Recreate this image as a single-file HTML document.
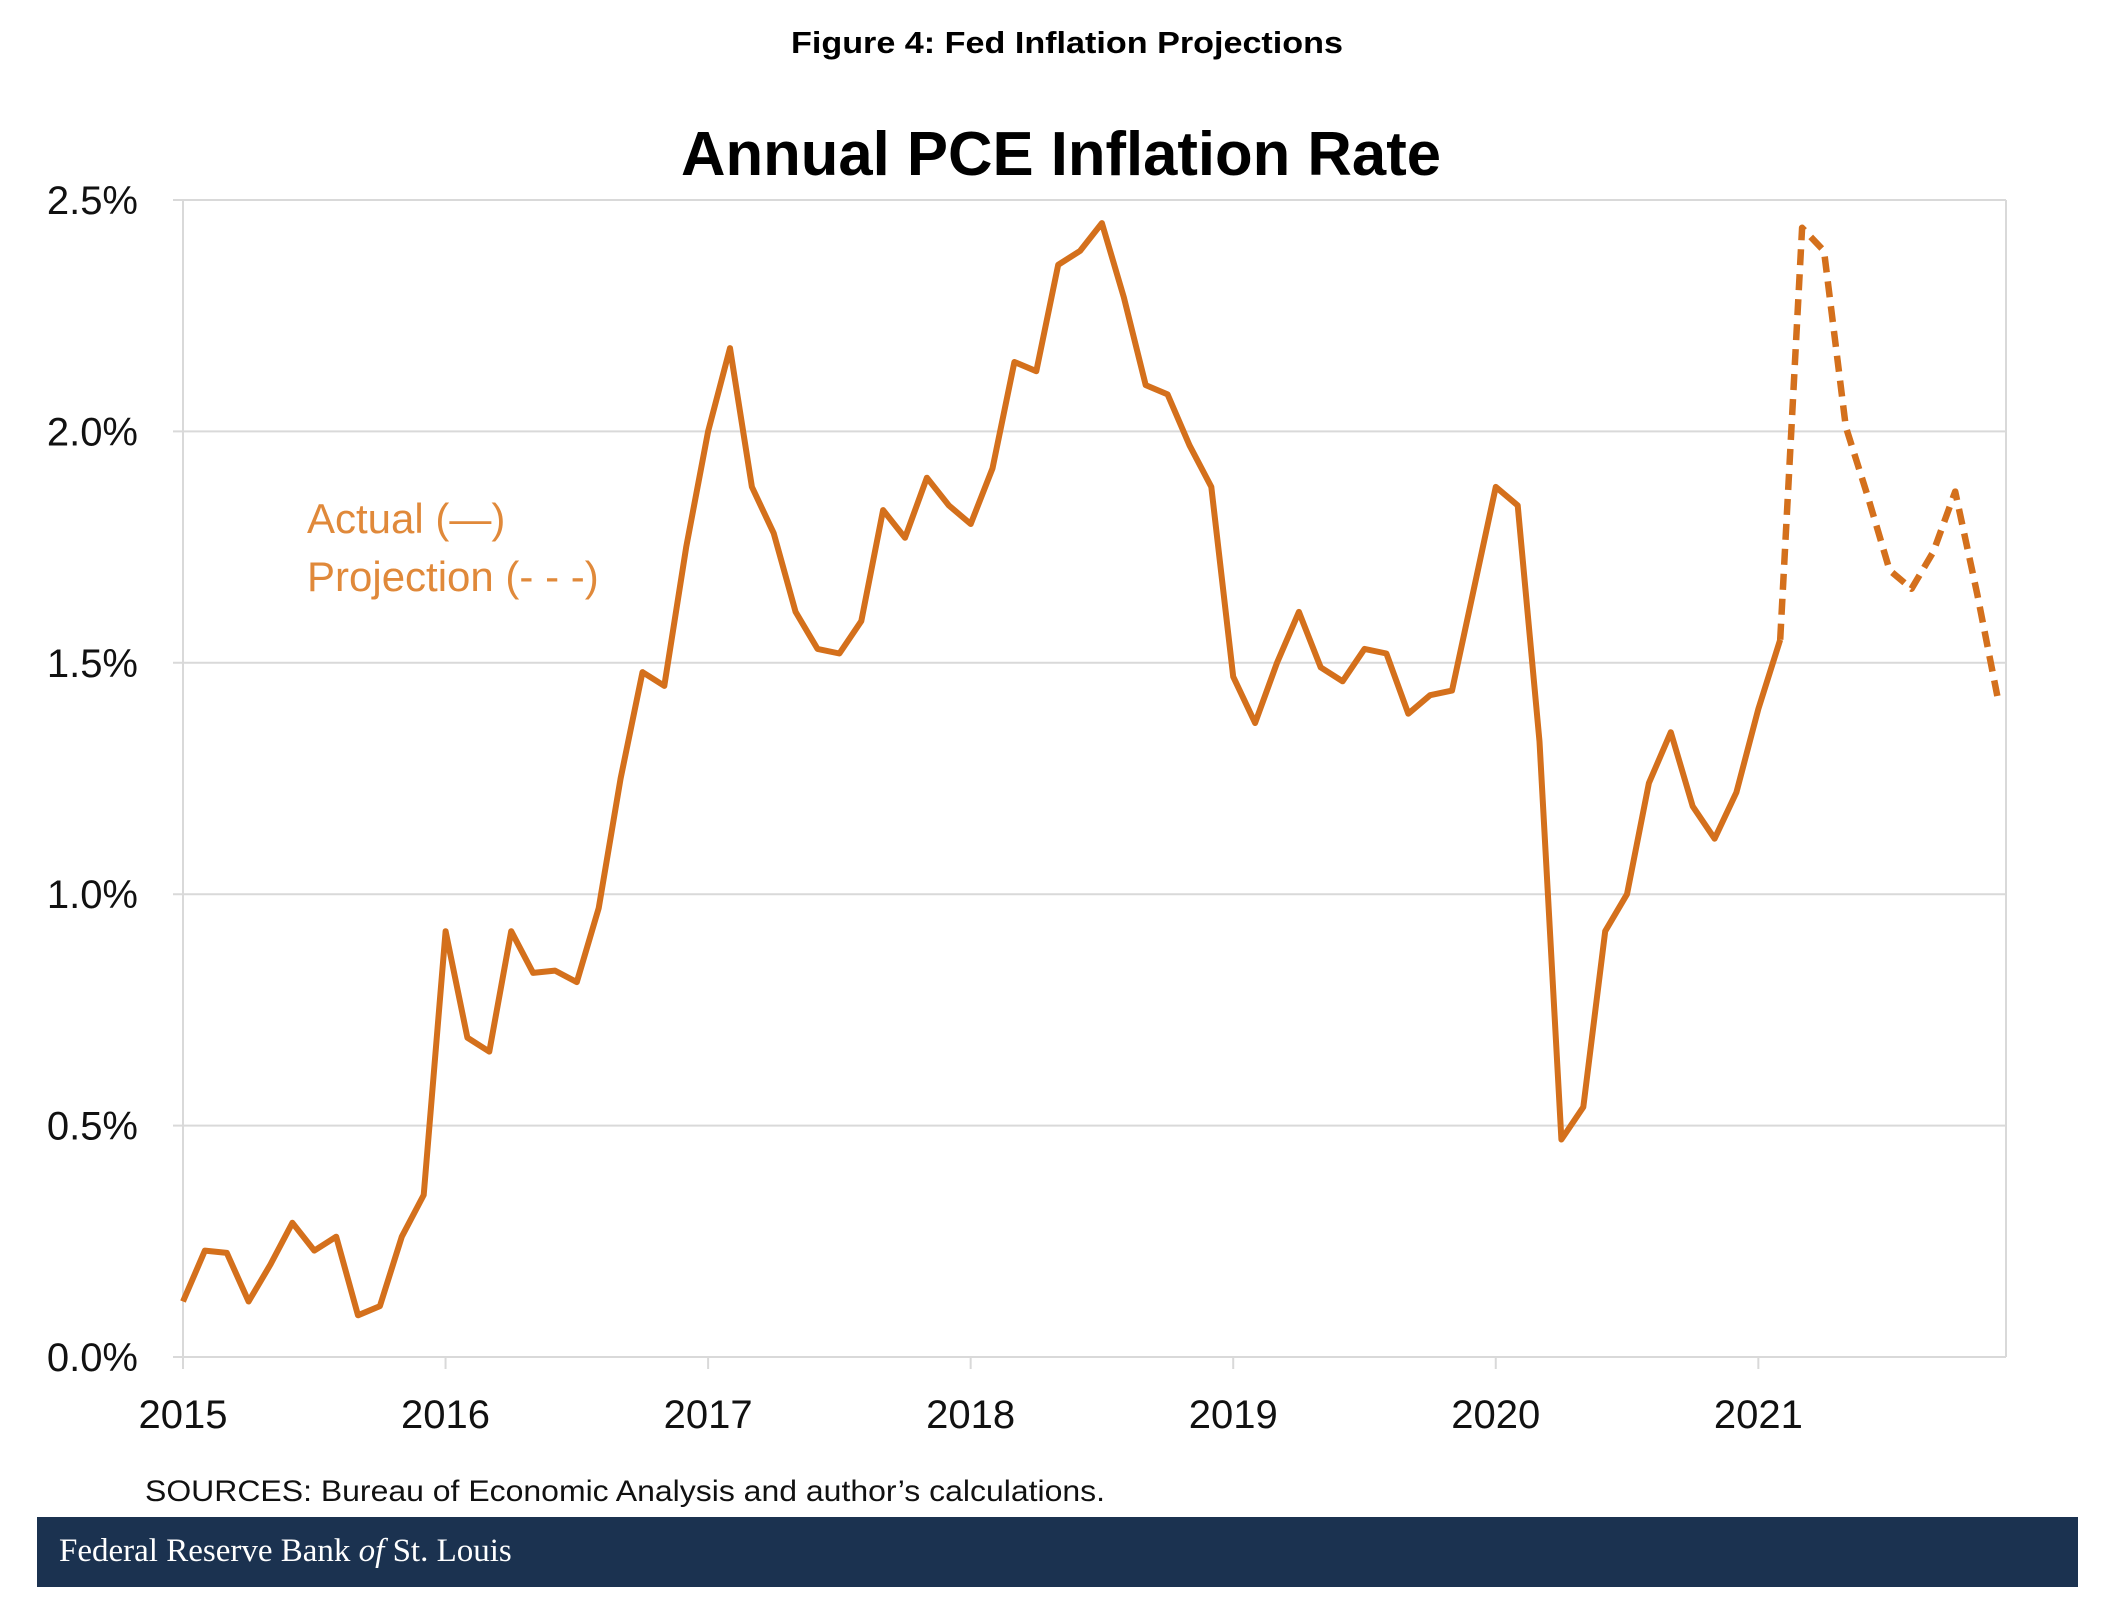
<!DOCTYPE html>
<html><head><meta charset="utf-8"><style>
html,body{margin:0;padding:0;background:#fff;}
svg{display:block;}
</style></head><body>
<svg width="2117" height="1619" viewBox="0 0 2117 1619" xmlns="http://www.w3.org/2000/svg" font-family="Liberation Sans, sans-serif">
<text x="1067" y="53" text-anchor="middle" font-size="31" font-weight="bold" textLength="552" lengthAdjust="spacingAndGlyphs">Figure 4: Fed Inflation Projections</text>
<text x="1061" y="175" text-anchor="middle" font-size="62" font-weight="bold" textLength="760" lengthAdjust="spacingAndGlyphs">Annual PCE Inflation Rate</text>
<g id="grid"></g>
<g id="yaxis"></g>
<g id="xaxis"></g>
<g id="series"></g>
<text x="307" y="533" font-size="42" fill="#e0893a">Actual (—)</text>
<text x="307" y="591" font-size="42" fill="#e0893a">Projection (- - -)</text>
<text x="145" y="1501" font-size="30" fill="#111" textLength="960" lengthAdjust="spacingAndGlyphs">SOURCES: Bureau of Economic Analysis and author’s calculations.</text>
<rect x="37" y="1517" width="2041" height="70" fill="#1b3250"/>
<text x="59" y="1561" font-size="33" fill="#fff" font-family="Liberation Serif, serif">Federal Reserve Bank <tspan font-style="italic">of</tspan> St. Louis</text>
</svg>
<script>
const yTicks=[0,0.5,1.0,1.5,2.0,2.5];
const yTickLabels=["0.0%","0.5%","1.0%","1.5%","2.0%","2.5%"];
const xYears=[2015,2016,2017,2018,2019,2020,2021];
const actual=[0.12,0.23,0.225,0.12,0.2,0.29,0.23,0.26,0.09,0.11,0.26,0.35,
0.92,0.69,0.66,0.92,0.83,0.835,0.81,0.97,1.25,1.48,1.45,1.75,
2.0,2.18,1.88,1.78,1.61,1.53,1.52,1.59,1.83,1.77,1.9,1.84,
1.8,1.92,2.15,2.13,2.36,2.39,2.45,2.29,2.1,2.08,1.97,1.88,
1.47,1.37,1.5,1.61,1.49,1.46,1.53,1.52,1.39,1.43,1.44,1.66,
1.88,1.84,1.33,0.47,0.54,0.92,1.0,1.24,1.35,1.19,1.12,1.22,
1.4,1.55];
const projection=[1.55,2.44,2.39,2.01,1.86,1.7,1.66,1.74,1.87,1.65,1.41];
const projStart=73;
const X0=183,X1=1999,Y0=1357,Y1=200;
const XR=2006;
const xs=m=>X0+m*(X1-X0)/83;
const ys=v=>Y0-(v/2.5)*(Y0-Y1);
const NS="http://www.w3.org/2000/svg";
function mk(t,a,p){const e=document.createElementNS(NS,t);for(const k in a)e.setAttribute(k,a[k]);p.appendChild(e);return e;}
const grid=document.getElementById('grid'),ya=document.getElementById('yaxis'),xa=document.getElementById('xaxis'),se=document.getElementById('series');
yTicks.forEach((v,i)=>{
 const l=mk('line',{x1:X0-10,x2:XR,y1:ys(v),y2:ys(v),stroke:'#d9d9d9','stroke-width':2},grid);
 
 
 const t=mk('text',{x:138,y:ys(v)+14,'text-anchor':'end','font-size':40,fill:'#111'},ya);
 t.textContent=yTickLabels[i];
 
 
});
const ax=mk('line',{x1:X0,x2:X0,y1:Y1,y2:Y0+12,stroke:'#d9d9d9','stroke-width':2},grid);


const rx=mk('line',{x1:XR,x2:XR,y1:Y1,y2:Y0,stroke:'#d9d9d9','stroke-width':2},grid);


xYears.forEach((yr,i)=>{
 const x=xs(i*12);
 const tk=mk('line',{x1:x,x2:x,y1:Y0,y2:Y0+12,stroke:'#d9d9d9','stroke-width':2},xa);
 
 
 const t=mk('text',{x:x,y:1428,'text-anchor':'middle','font-size':40,fill:'#111'},xa);
 t.textContent=yr;
 
 
});
const pa=actual.map((v,i)=>xs(i).toFixed(1)+','+ys(v).toFixed(1)).join(' ');
const a=mk('polyline',{points:pa,fill:'none',stroke:'#d4701c','stroke-width':6,'stroke-linejoin':'round'},se);


const pp=projection.map((v,i)=>xs(projStart+i).toFixed(1)+','+ys(v).toFixed(1)).join(' ');
const p=mk('polyline',{points:pp,fill:'none',stroke:'#d4701c','stroke-width':6.5,'stroke-dasharray':'16,9','stroke-linejoin':'round'},se);


</script>
</body></html>
